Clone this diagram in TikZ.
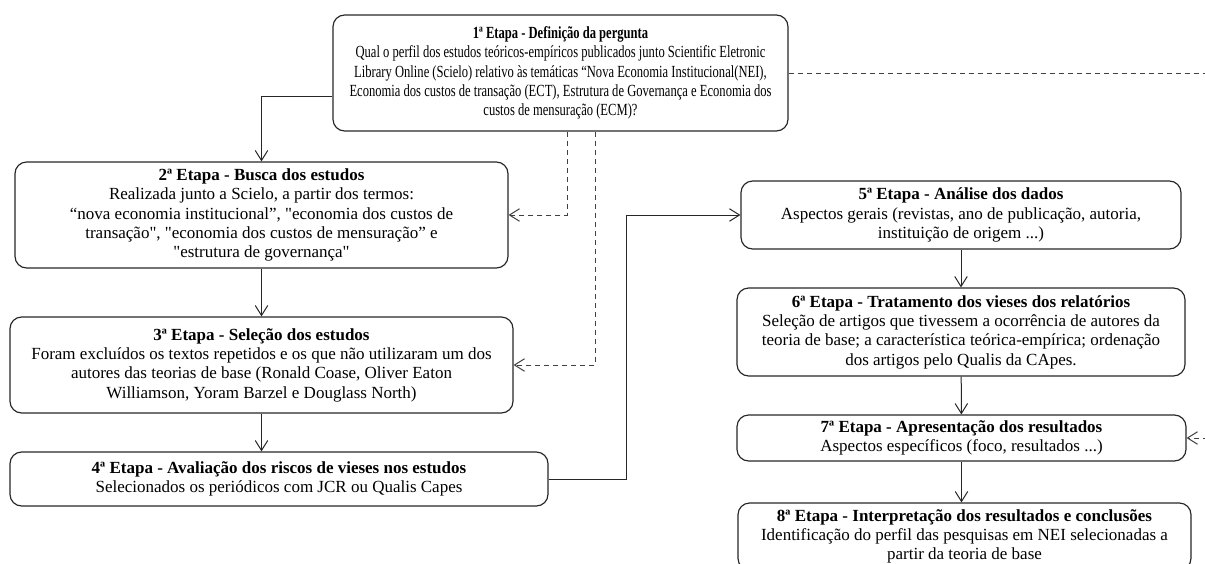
\documentclass[tikz,border=0pt]{standalone}
\usepackage{fontspec}
\setmainfont{Liberation Serif}
\newfontfamily\narrowfont{Liberation Serif}[FakeStretch=0.74]
\usetikzlibrary{arrows.meta}

\tikzset{
    etapa/.style={draw=black!85, line width=0.7pt, rounded corners=7pt, align=center,
        inner sep=0pt, font=\fontsize{10.2pt}{11.6pt}\selectfont},
    seta/.style={-{Straight Barb[length=6pt,width=7.5pt]}, line width=0.6pt, black!85},
    tracejada/.style={seta, dash pattern=on 3pt off 2.4pt, black!75}
}

\begin{document}
\begin{tikzpicture}[x=0.6pt,y=-0.6pt]
            \useasboundingbox (0,0) rectangle (1205,564);
            \clip (0,0) rectangle (1205,564);

            \node[etapa, minimum width=273pt, minimum height=69.6pt] (b1) at (560.5,73)
                {\narrowfont\textbf{1ª Etapa - Definição da pergunta}\\
                \narrowfont Qual o perfil dos estudos teóricos-empíricos publicados junto Scientific Eletronic\\
                \narrowfont Library Online (Scielo) relativo às temáticas “Nova Economia Institucional(NEI),\\
                \narrowfont Economia dos custos de transação (ECT), Estrutura de Governança e Economia dos\\
                \narrowfont custos de mensuração (ECM)?};

            \node[etapa, minimum width=295.8pt, minimum height=63.6pt] (b2) at (261.5,215)
                {\textbf{2ª Etapa - Busca dos estudos}\\
                Realizada junto a Scielo, a partir dos termos:\\
                “nova economia institucional”, \textquotedbl economia dos custos de\\
                transação\textquotedbl, \textquotedbl economia dos custos de mensuração” e\\
                \textquotedbl estrutura de governança\textquotedbl};

            \node[etapa, minimum width=301.8pt, minimum height=57.6pt] (b3) at (261.5,365)
                {\textbf{3ª Etapa - Seleção dos estudos}\\
                Foram excluídos os textos repetidos e os que não utilizaram um dos\\
                autores das teorias de base (Ronald Coase, Oliver Eaton\\
                Williamson, Yoram Barzel e Douglass North)};

            \node[etapa, minimum width=322.8pt, minimum height=32.4pt] (b4) at (279,479)
                {\textbf{4ª Etapa - Avaliação dos riscos de vieses nos estudos}\\
                Selecionados os periódicos com JCR ou Qualis Capes};

            \node[etapa, minimum width=264pt, minimum height=40.8pt] (b5) at (961,215)
                {\textbf{5ª Etapa - Análise dos dados}\\
                Aspectos gerais (revistas, ano de publicação, autoria,\\
                instituição de origem ...)};

            \node[etapa, minimum width=268.8pt, minimum height=52.8pt] (b6) at (961,332)
                {\textbf{6ª Etapa - Tratamento dos vieses dos relatórios}\\
                Seleção de artigos que tivessem a ocorrência de autores da\\
                teoria de base; a característica teórica-empírica; ordenação\\
                dos artigos pelo Qualis da CApes.};

            \node[etapa, minimum width=269.4pt, minimum height=27.6pt] (b7) at (961.5,438)
                {\textbf{7ª Etapa - Apresentação dos resultados}\\
                Aspectos específicos (foco, resultados ...)};

            \node[etapa, minimum width=271.8pt, minimum height=40.2pt] (b8) at (964.5,536.5)
                {\textbf{8ª Etapa - Interpretação dos resultados e conclusões}\\
                Identificação do perfil das pesquisas em NEI selecionadas a\\
                partir da teoria de base};

            \draw[seta] ([yshift=-14pt]b1.west) -| (b2);
            \draw[seta] (b2) -- (b3);
            \draw[seta] (b3.south) -- (b3.south |- b4.north);
            \draw[seta] (b4.east) -- ++(78,0) |- (b5);

            \draw[tracejada] ([xshift=3.9pt]b1.south) |- (b2);
            \draw[tracejada] ([xshift=20.7pt]b1.south) |- (b3);
            \draw[tracejada] (b1.east) -- ++(450,0) |- (b7);

            \draw[seta] (b5) -- (b6);
            \draw[seta] (b6) -- (b7);
            \draw[seta] (b7.south) -- (b7.south |- b8.north);

        \end{tikzpicture}
\end{document}
